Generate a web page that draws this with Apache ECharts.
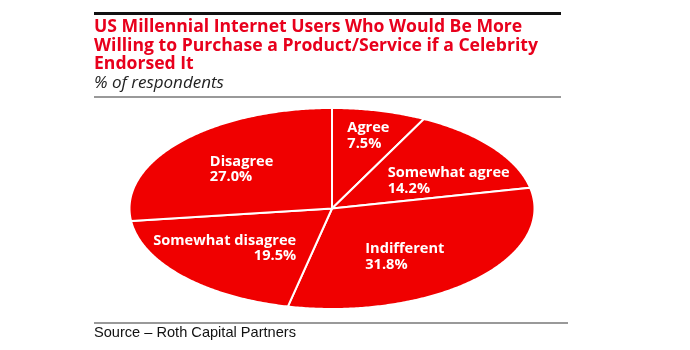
<!DOCTYPE html>
<html><head><meta charset="utf-8">
<script src="https://cdn.jsdelivr.net/npm/echarts@6/dist/echarts.min.js"></script>
<style>html,body{margin:0;padding:0;background:#fff}#c{width:690px;height:350px}</style>
</head><body><div id="c"></div>
<script>
const categories = ['Agree', 'Somewhat agree', 'Indifferent', 'Somewhat disagree', 'Disagree'];
const values = [7.5, 14.2, 31.8, 19.5, 27.0];
const titleLines = [
  'US Millennial Internet Users Who Would Be More',
  'Willing to Purchase a Product/Service if a Celebrity',
  'Endorsed It'
];
const subtitle = '% of respondents';
const sourceText = 'Source \u2013 Roth Capital Partners';

// layout / style (not data)
const PIE = { cx: 332, cy: 208.5, rx: 202.5, ry: 100.5 };
const RED = '#f00000';
const labelStyle = [
  { dx: -14, dy: -12, align: 'left' },
  { dx: -44, dy: 10, align: 'left' },
  { dx: -55, dy: 4, align: 'left' },
  { dx: 57, dy: -2, align: 'right' },
  { dx: -28, dy: 2, align: 'left' }
];

const total = values.reduce((a, b) => a + b, 0);
const cum = [];
values.reduce((acc, v, i) => { cum[i] = acc; return acc + v; }, 0);

function pt(theta, f) {
  return [PIE.cx + PIE.rx * f * Math.sin(theta), PIE.cy - PIE.ry * f * Math.cos(theta)];
}

const chart = echarts.init(document.getElementById('c'), null, { renderer: 'canvas' });
chart.setOption({
  animation: false,
  graphic: [
    { type: 'rect', shape: { x: 94, y: 12, width: 467, height: 3 }, style: { fill: '#111' } },
    ...titleLines.map((t, i) => ({
      type: 'text', x: 94, y: 27 + i * 18.5,
      style: { text: t, fill: '#e8001c', font: 'bold 17.6px "Open Sans"', verticalAlign: 'middle' }
    })),
    { type: 'text', x: 94, y: 83, style: { text: subtitle, fill: '#222', font: 'italic 17px "Open Sans"', verticalAlign: 'middle' } },
    { type: 'rect', shape: { x: 94, y: 96, width: 467, height: 2 }, style: { fill: '#999' } },
    { type: 'rect', shape: { x: 94, y: 322, width: 474, height: 2 }, style: { fill: '#999' } },
    { type: 'text', x: 94, y: 333, style: { text: sourceText, fill: '#111', font: '14.6px "Liberation Sans"', verticalAlign: 'middle' } }
  ],
  series: [{
    type: 'custom',
    coordinateSystem: 'none',
    data: values.map((v, i) => ({ name: categories[i], value: v })),
    renderItem: function (params, api) {
      const i = params.dataIndex;
      const v = api.value(0);
      const a0 = cum[i] / total * Math.PI * 2;
      const a1 = (cum[i] + v) / total * Math.PI * 2;
      const pts = [[PIE.cx, PIE.cy]];
      const n = Math.max(8, Math.ceil((a1 - a0) / 0.01));
      for (let k = 0; k <= n; k++) pts.push(pt(a0 + (a1 - a0) * k / n, 1));
      const mid = (a0 + a1) / 2;
      const base = pt(mid, 0.62);
      const ls = labelStyle[i];
      return {
        type: 'group',
        children: [
          { type: 'polygon', shape: { points: pts }, style: { fill: RED, stroke: '#fff', lineWidth: 2, lineJoin: 'round' } },
          { type: 'text', style: {
              x: base[0] + ls.dx, y: base[1] + ls.dy,
              text: categories[i] + '\n' + v.toFixed(1) + '%',
              fill: '#fff', font: 'bold 14.6px "Open Sans"', lineHeight: 15.5,
              align: ls.align, verticalAlign: 'middle'
            } }
        ]
      };
    }
  }]
});
</script></body></html>
